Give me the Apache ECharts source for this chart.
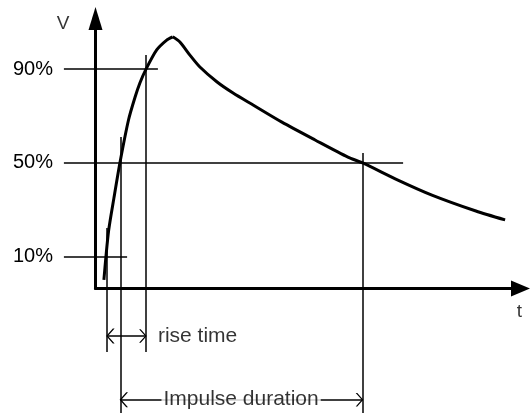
<!DOCTYPE html>
<html>
<head>
<meta charset="utf-8">
<script src="https://cdn.jsdelivr.net/npm/echarts@6/dist/echarts.min.js"></script>
<style>
  html, body { margin: 0; padding: 0; background: #fff; }
  #chart { width: 530px; height: 414px; }
</style>
</head>
<body>
<div id="chart"></div>
<script>
// impulse wave: time in arbitrary units, voltage in % of the reference level
const riseCurve = [
  [2.1, 0.1], [2.6, 9.9], [3.3, 21.4], [4.6, 35], [6.1, 50],
  [8.25, 68.3], [9.9, 78.1], [11.1, 84.1], [12.6, 89.9], [15.3, 98.2],
  [17.8, 102.4], [19.3, 103.8]
];
const fallCurve = [
  [19.3, 103.8], [21.1, 101.6], [23.6, 96.0], [26.1, 90.9], [30.4, 84.5],
  [34.4, 79.8], [39.4, 74.7], [46.6, 67.4], [54.9, 59.8], [63.1, 52.5],
  [66.8, 50.0], [75.6, 42.7], [84.1, 36.3], [95.1, 29.5], [102.4, 25.7]
];

// level lines (%) and how far right each one reaches
const levels = [10, 50, 90];
const levelStart = -7.9;
const levelEnds = [7.9, 76.9, 15.6];

// vertical markers: [t, top, bottom]
const markers = [
  [2.9, 22.3, -30.6],   // rise time start
  [6.25, 61.1, -56.6],  // duration start
  [12.6, 96.0, -30.6],  // rise time end
  [66.75, 54.2, -56.6]  // duration end
];

// dimension arrows: [from, to, level]
const riseTime = [2.9, 12.6, -23.8];
const duration = [6.25, 66.75, -51.0];

// free text
const annotations = [
  ['V', -8.1, 109.5],
  ['t', 106.0, -13.3],
  ['rise time', 15.6, -23.8],
  ['Impulse duration', 36.4, -50.9]
];

const FONT = "'Liberation Sans', Arial, sans-serif";
// open arrow head, tip at centre of its box
const chevron = 'path://M7.5,-0.8 M0,11.2 L7.5,5.2 L15,11.2 L15,12.8 L7.5,6.8 L0,12.8 Z';

const chart = echarts.init(document.getElementById('chart'));

const guideLines = [];
levels.forEach((lv, i) => guideLines.push({ coords: [[levelStart, lv], [levelEnds[i], lv]] }));
markers.forEach((m) => guideLines.push({ coords: [[m[0], m[1]], [m[0], m[2]]] }));

const curveStyle = {
  type: 'line',
  smooth: 0.25,
  showSymbol: false,
  clip: false,
  lineStyle: { color: '#000', width: 3 },
  z: 3
};

const option = {
  animation: false,
  grid: { left: 95.5, right: 9.5, top: 18.5, bottom: 125.5 },
  xAxis: {
    type: 'value',
    min: 0,
    max: 106.25,
    axisLine: {
      onZero: false,
      symbol: ['none', 'triangle'],
      symbolSize: [16, 19],
      lineStyle: { color: '#000', width: 3 }
    },
    axisTick: { show: false },
    axisLabel: { show: false },
    splitLine: { show: false }
  },
  yAxis: {
    type: 'value',
    min: -3.54,
    max: 111.6,
    axisLine: {
      onZero: false,
      symbol: ['none', 'triangle'],
      symbolSize: [14, 23],
      lineStyle: { color: '#000', width: 3 }
    },
    axisTick: { show: false },
    splitLine: { show: false },
    axisLabel: {
      customValues: levels,
      formatter: (v) => v + '%',
      margin: 42.5,
      color: '#000',
      fontSize: 20,
      fontFamily: FONT
    }
  },
  series: [
    {
      type: 'lines',
      coordinateSystem: 'cartesian2d',
      clip: false,
      silent: true,
      symbol: ['none', 'none'],
      lineStyle: { color: '#000', width: 1.5, opacity: 1 },
      data: guideLines,
      z: 2
    },
    {
      type: 'lines',
      coordinateSystem: 'cartesian2d',
      clip: false,
      silent: true,
      symbol: [chevron, chevron],
      symbolSize: [15, 13.6],
      lineStyle: { color: '#000', width: 1.5, opacity: 1 },
      data: [
        { coords: [[riseTime[0], riseTime[2]], [riseTime[1], riseTime[2]]] },
        { coords: [[duration[0], duration[2]], [duration[1], duration[2]]] }
      ],
      z: 2
    },
    Object.assign({ data: riseCurve }, curveStyle),
    Object.assign({ data: fallCurve }, curveStyle),
    {
      type: 'scatter',
      clip: false,
      silent: true,
      symbolSize: 0,
      z: 5,
      data: annotations.map((a, i) => ({
        name: a[0],
        value: [a[1], a[2]],
        label: {
          show: true,
          formatter: '{b}',
          position: i === 2 ? 'right' : 'inside',
          distance: 0,
          color: '#000',
          fontFamily: FONT,
          fontSize: i >= 2 ? 21 : 19,
          backgroundColor: i === 3 ? '#fff' : 'transparent',
          padding: i === 3 ? [0, 2] : 0
        }
      }))
    }
  ]
};

chart.setOption(option);
</script>
</body>
</html>
